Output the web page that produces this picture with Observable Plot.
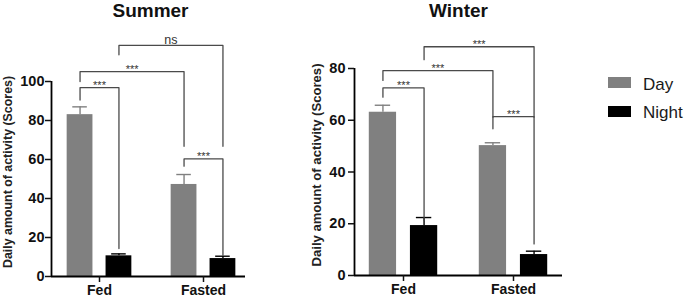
<!DOCTYPE html>
<html><head><meta charset="utf-8">
<script src="https://cdn.jsdelivr.net/npm/d3@7"></script>
<script src="https://cdn.jsdelivr.net/npm/@observablehq/plot@0.6"></script>
<style>
body{margin:0;background:#fff;font-family:"Liberation Sans",Arial,sans-serif;}
#wrap{position:relative;width:685px;height:301px;overflow:hidden;background:#fff;}
.panel{position:absolute;top:0;}
.title{position:absolute;top:1px;width:200px;text-align:center;font-weight:bold;font-size:19px;line-height:19px;color:#111;}
.sw{position:absolute;width:23px;height:11px;}
.lt{position:absolute;font-size:17px;line-height:17px;color:#1a1a1a;}
</style></head><body>
<div id="wrap"></div>
<script>
// ---- data ----
const groups = ["Fed", "Fasted"];
const seriesNames = ["Day", "Night"];
const seriesColors = ["#808080", "#000000"];
const panelTitles = ["Summer", "Winter"];
const yLabel = "Daily amount of activity (Scores)";

const summerDay = [83.0, 47.2];
const summerNight = [10.6, 9.2];
const summerDayErr = [4.0, 5.1];
const summerNightErr = [1.0, 1.2];
const summerTicks = [0, 20, 40, 60, 80, 100];

const winterDay = [63.1, 50.2];
const winterNight = [19.3, 8.1];
const winterDayErr = [2.7, 1.1];
const winterNightErr = [3.1, 1.3];
const winterTicks = [0, 20, 40, 60, 80];

// brackets: [group A, series A, group B, series B, top, leg A end, leg B end, label]
const summerBrackets = [
  ["Fed", "Day", "Fed", "Night", 96.9, 90.5, 14.3, "***"],
  ["Fed", "Day", "Fasted", "Day", 105.1, 100.0, 66.8, "***"],
  ["Fed", "Night", "Fasted", "Night", 118.5, 113.7, 66.8, "ns"],
  ["Fasted", "Day", "Fasted", "Night", 60.3, 56.6, 11.1, "***"]
];
const winterBrackets = [
  ["Fed", "Day", "Fed", "Night", 72.5, 68.9, 21.3, "***"],
  ["Fed", "Day", "Fasted", "Day", 79.2, 75.4, 61.2, "***"],
  ["Fed", "Night", "Fasted", "Night", 88.4, 83.4, 61.2, "***"],
  ["Fasted", "Day", "Fasted", "Night", 61.4, 56.7, 12.2, "***"]
];

// ---- layout ----
const seriesOffset = [-0.187, 0.187];
const barHalf = 0.124;
const capHalf = 0.07;
const pos = (g, s) => groups.indexOf(g) + seriesOffset[seriesNames.indexOf(s)];

function panel(cfg) {
  const rows = groups.flatMap((g, gi) => seriesNames.map((s, si) => ({
    group: g, series: s, x: gi + seriesOffset[si],
    value: (si === 0 ? cfg.day : cfg.night)[gi],
    err: (si === 0 ? cfg.dayErr : cfg.nightErr)[gi]
  })));
  const br = cfg.brackets.map((b, i) => ({
    id: i, xa: pos(b[0], b[1]), xb: pos(b[2], b[3]), top: b[4], ya: b[5], yb: b[6], label: b[7]
  }));
  const pts = br.flatMap(b => [
    {id: b.id, x: b.xa, y: b.ya}, {id: b.id, x: b.xa, y: b.top},
    {id: b.id, x: b.xb, y: b.top}, {id: b.id, x: b.xb, y: b.yb}
  ]);
  const ymax = cfg.ticks[cfg.ticks.length - 1];
  return Plot.plot({
    width: cfg.width, height: 301,
    marginLeft: cfg.ml, marginRight: cfg.mr, marginTop: cfg.mt, marginBottom: cfg.mb,
    style: {fontFamily: '"Liberation Sans", Arial, sans-serif', color: "#111", background: "transparent", overflow: "visible"},
    x: {type: "linear", domain: cfg.xdomain},
    y: {domain: [0, ymax]},
    color: {domain: seriesNames, range: seriesColors},
    marks: [
      Plot.rectY(rows, {x1: d => d.x - barHalf, x2: d => d.x + barHalf, y1: 0, y2: "value", fill: "series"}),
      Plot.ruleX(rows, {x: "x", y1: "value", y2: d => d.value + d.err, stroke: "series", strokeWidth: 1.4}),
      Plot.ruleY(rows, {x1: d => d.x - capHalf, x2: d => d.x + capHalf, y: d => d.value + d.err, stroke: "series", strokeWidth: 1.4}),
      Plot.line(pts, {x: "x", y: "y", z: "id", stroke: "#4a4a4a", strokeWidth: 1.3}),
      Plot.text(br.filter(d => d.label !== "ns"), {x: d => (d.xa + d.xb) / 2, y: "top", text: "label", lineAnchor: "bottom",
        dy: 1, fontSize: 11, fill: "#333"}),
      Plot.text(br.filter(d => d.label === "ns"), {x: d => (d.xa + d.xb) / 2, y: "top", text: "label", lineAnchor: "bottom",
        dy: -1, fontSize: 12.5, fill: "#333"}),
      Plot.ruleY([0], {stroke: "#000", strokeWidth: 1.8}),
      Plot.ruleX([cfg.xdomain[0]], {y1: 0, y2: ymax, stroke: "#000", strokeWidth: 1.8}),
      Plot.axisY({ticks: cfg.ticks, tickSize: 6, tickPadding: cfg.tp, fontSize: 14.5, fontWeight: "bold", label: null, strokeWidth: 1.5}),
      Plot.axisX({ticks: [0, 1], tickFormat: i => groups[i], tickSize: 6, tickPadding: 3, fontSize: 14, fontWeight: "bold", label: null, strokeWidth: 1.5}),
      Plot.text([yLabel], {frameAnchor: "left", rotate: -90, textAnchor: "middle", lineAnchor: "middle", dx: cfg.ldx, dy: -7, fontSize: cfg.lfs, fontWeight: "bold", fill: "#222"})
    ]
  });
}

const wrap = document.getElementById("wrap");
const summer = panel({
  day: summerDay, night: summerNight, dayErr: summerDayErr, nightErr: summerNightErr,
  ticks: summerTicks, brackets: summerBrackets,
  width: 250, ml: 51, mr: 5, mt: 81, mb: 25, xdomain: [-48 / 104, 146 / 104], tp: 1, ldx: -43, lfs: 12.4
});
summer.classList.add("panel"); summer.style.left = "0px";
wrap.appendChild(summer);

const winter = panel({
  day: winterDay, night: winterNight, dayErr: winterDayErr, nightErr: winterNightErr,
  ticks: winterTicks, brackets: winterBrackets,
  width: 270, ml: 54, mr: 8, mt: 68, mb: 26, xdomain: [-49 / 110, 159 / 110], tp: 3, ldx: -38, lfs: 13.1
});
winter.classList.add("panel"); winter.style.left = "300px";
wrap.appendChild(winter);

// titles
[[panelTitles[0], 150.5], [panelTitles[1], 458.5]].forEach(([t, cx]) => {
  const d = document.createElement("div");
  d.className = "title"; d.textContent = t; d.style.left = (cx - 100) + "px";
  wrap.appendChild(d);
});
// legend
seriesNames.forEach((s, i) => {
  const sw = document.createElement("div");
  sw.className = "sw"; sw.style.left = "608px"; sw.style.top = (77 + i * 28.5) + "px";
  sw.style.background = seriesColors[i];
  wrap.appendChild(sw);
  const t = document.createElement("div");
  t.className = "lt"; t.textContent = s; t.style.left = "643px"; t.style.top = (75.6 + i * 28) + "px";
  wrap.appendChild(t);
});
</script>
</body></html>
